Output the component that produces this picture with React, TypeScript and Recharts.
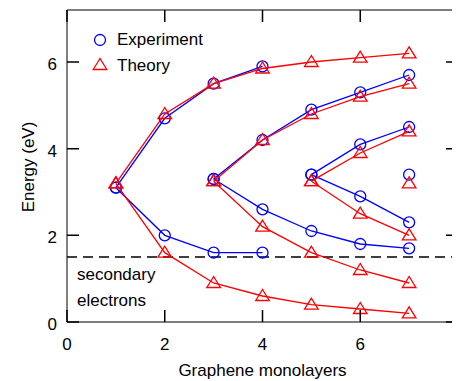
import React from 'react';
import { ScatterChart, Scatter, XAxis, YAxis, ReferenceLine, Label } from 'recharts';

// ---- tick labels ----
const xTicks = [0, 2, 4, 6, 8];
const yTicks = [0, 2, 4, 6];

// ---- Experiment branches (blue circles) ----
const expA_x = [1, 2, 3, 4];
const expA_y = [3.1, 4.7, 5.5, 5.9];
const expB_x = [1, 2, 3, 4];
const expB_y = [3.1, 2.0, 1.6, 1.6];
const expC_x = [3, 4, 5, 6, 7];
const expC_y = [3.3, 4.2, 4.9, 5.3, 5.7];
const expD_x = [3, 4, 5, 6, 7];
const expD_y = [3.3, 2.6, 2.1, 1.8, 1.7];
const expE_x = [5, 6, 7];
const expE_y = [3.4, 4.1, 4.5];
const expF_x = [5, 6, 7];
const expF_y = [3.4, 2.9, 2.3];
const expG_x = [7];
const expG_y = [3.4];

// ---- Theory branches (red triangles) ----
const thA_x = [1, 2, 3, 4, 5, 6, 7];
const thA_y = [3.2, 4.8, 5.5, 5.85, 6.0, 6.1, 6.2];
const thB_x = [1, 2, 3, 4, 5, 6, 7];
const thB_y = [3.2, 1.6, 0.9, 0.6, 0.4, 0.3, 0.2];
const thC_x = [3, 4, 5, 6, 7];
const thC_y = [3.25, 4.2, 4.8, 5.2, 5.5];
const thD_x = [3, 4, 5, 6, 7];
const thD_y = [3.25, 2.2, 1.6, 1.2, 0.9];
const thE_x = [5, 6, 7];
const thE_y = [3.25, 3.9, 4.4];
const thF_x = [5, 6, 7];
const thF_y = [3.25, 2.5, 2.0];
const thG_x = [7];
const thG_y = [3.2];

const secondaryLevel = 1.5;

const X_MIN = 0;
const X_MAX = 8;
const Y_MIN = 0;
const Y_MAX = 7.2;

const pts = (xs: number[], ys: number[]) => xs.map((x, i) => ({ x, y: ys[i] }));

const expBranches = [
  pts(expA_x, expA_y),
  pts(expB_x, expB_y),
  pts(expC_x, expC_y),
  pts(expD_x, expD_y),
  pts(expE_x, expE_y),
  pts(expF_x, expF_y),
  pts(expG_x, expG_y),
];
const thBranches = [
  pts(thA_x, thA_y),
  pts(thB_x, thB_y),
  pts(thC_x, thC_y),
  pts(thD_x, thD_y),
  pts(thE_x, thE_y),
  pts(thF_x, thF_y),
  pts(thG_x, thG_y),
];

const BLUE = '#0000ff';
const RED = '#ff0000';
const FONT = '"Liberation Sans", Arial, sans-serif';

// plot box (chart-relative px) — set by the axis widths/heights below
const PLOT_L = 59;
const PLOT_T = 2;
const PLOT_W = 391;
const PLOT_H = 312;
const TICK_PX = 12;
const tx = (v: number) => PLOT_L + ((v - X_MIN) / (X_MAX - X_MIN)) * PLOT_W;
const ty = (v: number) => PLOT_T + ((Y_MAX - v) / (Y_MAX - Y_MIN)) * PLOT_H;

const tickPath = [
  ...yTicks.map(
    (v) =>
      `M${PLOT_L},${ty(v)}h${TICK_PX}M${PLOT_L + PLOT_W},${ty(v)}h${-TICK_PX}`
  ),
  ...xTicks.map(
    (v) =>
      `M${tx(v)},${PLOT_T + PLOT_H}v${-TICK_PX}M${tx(v)},${PLOT_T}v${TICK_PX}`
  ),
].join('');

const CircleShape = (p: any) => (
  <circle cx={p.cx} cy={p.cy} r={5.5} fill="none" stroke={BLUE} strokeWidth={1.3} />
);
const TriShape = (p: any) => (
  <polygon
    points={`${p.cx},${p.cy - 6.5} ${p.cx - 6.8},${p.cy + 4.5} ${p.cx + 6.8},${p.cy + 4.5}`}
    fill="none"
    stroke={RED}
    strokeWidth={1.3}
  />
);

const BottomTick = (p: any) => (
  <text x={p.x} y={Number(p.y) + 14} textAnchor="middle" fill="#000" fontSize={17} fontFamily={FONT}>
    {p.payload.value}
  </text>
);
const LeftTick = (p: any) => (
  <text x={p.x} y={Number(p.y) + 8} textAnchor="end" fill="#000" fontSize={17} fontFamily={FONT}>
    {p.payload.value}
  </text>
);

const XLabel = (props: any) => {
  const vb = props.viewBox || {};
  const cx = (vb.x || 0) + (vb.width || 0) / 2;
  return (
    <text x={cx} y={368} textAnchor="middle" fill="#000" fontSize={17} fontFamily={FONT}>
      Graphene monolayers
    </text>
  );
};
const YLabel = () => (
  <text
    x={20}
    y={159}
    transform="rotate(-90 20 159)"
    textAnchor="middle"
    dominantBaseline="central"
    fill="#000"
    fontSize={17}
    fontFamily={FONT}
  >
    Energy (eV)
  </text>
);

export default function App() {
  return (
    <div style={{ position: 'relative', width: 452, height: 373 }}>
      <ScatterChart width={452} height={373} margin={{ top: 0, right: 0, bottom: 0, left: 0 }}>
        <XAxis
          xAxisId="b"
          dataKey="x"
          type="number"
          domain={[X_MIN, X_MAX]}
          ticks={xTicks}
          orientation="bottom"
          height={59}
          stroke="#000"
          tickLine={false}
          tickSize={0}
          tickMargin={14}
          tick={BottomTick}
          interval={0}
        >
          <Label content={XLabel} />
        </XAxis>
        <XAxis
          xAxisId="t"
          dataKey="x"
          type="number"
          domain={[X_MIN, X_MAX]}
          orientation="top"
          height={2}
          stroke="#000"
          tickLine={false}
          tick={false}
        />
        <YAxis
          yAxisId="l"
          dataKey="y"
          type="number"
          domain={[Y_MIN, Y_MAX]}
          ticks={yTicks}
          orientation="left"
          width={59}
          stroke="#000"
          tickLine={false}
          tickSize={0}
          tickMargin={10}
          tick={LeftTick}
          interval={0}
        >
          <Label content={YLabel} />
        </YAxis>
        <YAxis
          yAxisId="r"
          dataKey="y"
          type="number"
          domain={[Y_MIN, Y_MAX]}
          orientation="right"
          width={2}
          stroke="#000"
          tickLine={false}
          tick={false}
        />
        <ReferenceLine
          xAxisId="b"
          yAxisId="l"
          y={secondaryLevel}
          stroke="#000"
          strokeOpacity={1}
          strokeWidth={1.3}
          strokeDasharray="10 6"
        />
        {expBranches.map((d, i) => (
          <Scatter
            key={'e' + i}
            xAxisId="b"
            yAxisId="l"
            data={d}
            line={{ stroke: BLUE, strokeWidth: 1.3 }}
            shape={CircleShape}
            isAnimationActive={false}
          />
        ))}
        {thBranches.map((d, i) => (
          <Scatter
            key={'t' + i}
            xAxisId="b"
            yAxisId="l"
            data={d}
            line={{ stroke: RED, strokeWidth: 1.3 }}
            shape={TriShape}
            isAnimationActive={false}
          />
        ))}
      </ScatterChart>
      <svg
        width={452}
        height={373}
        style={{ position: 'absolute', left: 0, top: 0, pointerEvents: 'none' }}
      >
        {/* inward tick marks on all four sides of the frame */}
        <path d={tickPath} fill="none" stroke="#000" strokeWidth={1.5} />
        <circle cx={92} cy={32} r={5.5} fill="none" stroke={BLUE} strokeWidth={1.3} />
        <text x={109} y={37} fill="#000" fontSize={17} fontFamily={FONT}>
          Experiment
        </text>
        <polygon points="92,50.5 85.2,61.5 98.8,61.5" fill="none" stroke={RED} strokeWidth={1.3} />
        <text x={109} y={63} fill="#000" fontSize={17} fontFamily={FONT}>
          Theory
        </text>
        <text x={69} y={272} fill="#000" fontSize={17} fontFamily={FONT}>
          secondary
        </text>
        <text x={69} y={298} fill="#000" fontSize={17} fontFamily={FONT}>
          electrons
        </text>
      </svg>
    </div>
  );
}
